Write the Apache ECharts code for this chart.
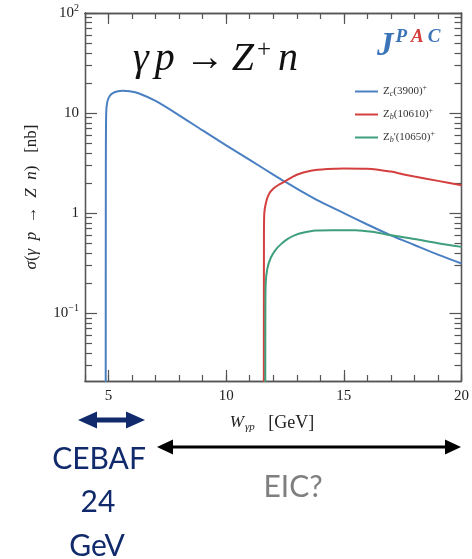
<!DOCTYPE html>
<html><head><meta charset="utf-8">
<script src="https://cdn.jsdelivr.net/npm/echarts@6/dist/echarts.min.js"></script>
<style>html,body{margin:0;padding:0;background:#fff}#c{width:472px;height:559px}</style>
</head><body><div id="c"></div>
<script>
// ---- data ----
const seriesNames = ['Zc(3900)+', 'Zb(10610)+', "Zb'(10650)+"];
const legendLabels = ['Z{sub|c}(3900){sup|+}', 'Z{sub|b}(10610){sup|+}', "Z{sub|b}'(10650){sup|+}"];
const blueW     = [4.88, 4.885, 4.9, 4.95, 5.05, 5.2, 5.4, 5.6, 5.9, 6.3, 7, 8, 9, 10, 11, 12, 12.5, 13, 14, 15, 16, 17, 18, 19, 20];
const blueSigma = [0.01, 2, 10, 13, 14.8, 15.9, 16.5, 16.7, 16.5, 15.7, 13.2, 9.5, 6.7, 4.75, 3.4, 2.43, 2.06, 1.76, 1.3, 1.0, 0.77, 0.60, 0.48, 0.385, 0.314];
const redW      = [11.6, 11.605, 11.62, 11.7, 11.83, 12.0, 12.2, 12.5, 13, 13.6, 14.3, 15, 16, 17, 17.5, 18, 19, 20];
const redSigma  = [0.01, 0.6, 1.0, 1.3, 1.57, 1.75, 1.9, 2.08, 2.42, 2.65, 2.76, 2.8, 2.78, 2.6, 2.45, 2.32, 2.1, 1.9];
const greenW     = [11.66, 11.665, 11.68, 11.75, 11.9, 12.1, 12.33, 12.6, 12.9, 13.3, 13.8, 14.5, 15.5, 16.2, 17, 18, 19, 20];
const greenSigma = [0.01, 0.1, 0.2, 0.28, 0.36, 0.43, 0.49, 0.55, 0.6, 0.64, 0.67, 0.675, 0.675, 0.65, 0.6, 0.55, 0.5, 0.46];
const xMajorTicks = [5, 10, 15, 20];
const xMinorTicks = [4,5,6,7,8,9,10,11,12,13,14,15,16,17,18,19,20];
const yMajorTicks = [0.1, 1, 10, 100];
const yTickLabels = ['10{sup|\u22121}', '1', '10', '10{sup|2}'];
const yMinorTicks = [0.03,0.04,0.05,0.06,0.07,0.08,0.09,0.2,0.3,0.4,0.5,0.6,0.7,0.8,0.9,2,3,4,5,6,7,8,9,20,30,40,50,60,70,80,90];
const xRange = [4, 20];
const yRange = [0.021, 100];

const colors = ['#4a80c2', '#d3403f', '#3f9f7c'];
const axisColor = '#555';
const serif = "'Liberation Serif', 'DejaVu Serif', serif";

function pairs(xs, ys) { return xs.map((x, i) => [x, ys[i]]); }

function xAxisDef(pos, ticks, len, labels) {
  return {
    type: 'value', position: pos, min: xRange[0], max: xRange[1],
    axisLine: { show: true, lineStyle: { color: axisColor, width: 1.3 } },
    axisTick: { show: true, inside: true, length: len, customValues: ticks, lineStyle: { color: axisColor, width: 1.2 } },
    axisLabel: labels ? { show: true, customValues: ticks, margin: 8, color: '#222', fontFamily: serif, fontSize: 15 } : { show: false },
    splitLine: { show: false }
  };
}
function yAxisDef(pos, ticks, len, labels) {
  return {
    type: 'log', logBase: 10, position: pos, min: yRange[0], max: yRange[1],
    axisLine: { show: true, lineStyle: { color: axisColor, width: 1.3 } },
    axisTick: { show: true, inside: true, length: len, customValues: ticks, lineStyle: { color: axisColor, width: 1.2 } },
    axisLabel: labels ? {
      show: true, customValues: ticks, margin: 6, color: '#222', fontFamily: serif, fontSize: 15,
      formatter: v => { const i = yMajorTicks.findIndex(t => Math.abs(t - v) / t < 1e-6); return i >= 0 ? yTickLabels[i] : ''; },
      rich: { sup: { fontSize: 10, fontFamily: serif, color: '#222', padding: [0, 0, 9, 0] } }
    } : { show: false },
    splitLine: { show: false }
  };
}

const chart = echarts.init(document.getElementById('c'), null, { renderer: 'canvas' });
const allW = [blueW, redW, greenW];
const allS = [blueSigma, redSigma, greenSigma];

chart.setOption({
  animation: false,
  backgroundColor: '#fff',
  grid: { left: 85, right: 10, top: 13, bottom: 178 },
  xAxis: [
    xAxisDef('bottom', xMajorTicks, 11, true),
    xAxisDef('bottom', xMinorTicks, 6, false),
    xAxisDef('top', xMajorTicks, 11, false),
    xAxisDef('top', xMinorTicks, 6, false)
  ],
  yAxis: [
    yAxisDef('left', yMajorTicks, 12, true),
    yAxisDef('left', yMinorTicks, 7, false),
    yAxisDef('right', yMajorTicks, 12, false),
    yAxisDef('right', yMinorTicks, 7, false)
  ],
  legend: {
    orient: 'vertical', left: 349, top: 79, itemWidth: 23, itemHeight: 14, itemGap: 8.5,
    data: seriesNames,
    itemStyle: { opacity: 0 },
    formatter: name => legendLabels[seriesNames.indexOf(name)],
    textStyle: {
      fontFamily: serif, fontSize: 11, color: '#333', lineHeight: 14,
      rich: {
        sub: { fontSize: 8, fontFamily: serif, color: '#333', fontStyle: 'italic', padding: [5, 0, 0, 0] },
        sup: { fontSize: 8, fontFamily: serif, color: '#333', padding: [0, 0, 7, 0] }
      }
    }
  },
  series: seriesNames.map((n, k) => ({
    name: n, type: 'line', xAxisIndex: 0, yAxisIndex: 0,
    data: pairs(allW[k], allS[k]),
    symbol: 'none', smooth: 0.3, clip: true,
    lineStyle: { color: colors[k], width: 2 }, itemStyle: { color: colors[k] }
  })),
  graphic: [
    { type: 'text', left: 133, top: 38, style: {
        text: '{g|\u03b3}{p|p}{a|\u2192}{z|Z}{s|+}{n|n}',
        rich: {
          g: { fontFamily: serif, fontStyle: 'italic', fontSize: 40, fill: '#111', padding: [0, 6, 0, 0] },
          p: { fontFamily: serif, fontStyle: 'italic', fontSize: 40, fill: '#111', padding: [0, 10, 0, 0] },
          a: { fontFamily: serif, fontSize: 40, fill: '#111', padding: [0, 7, 0, 0] },
          z: { fontFamily: serif, fontStyle: 'italic', fontSize: 40, fill: '#111', padding: [0, 3, 0, 0] },
          s: { fontFamily: serif, fontSize: 25, fill: '#111', padding: [0, 5, 18, 0] },
          n: { fontFamily: serif, fontStyle: 'italic', fontSize: 40, fill: '#111', padding: [0, 0, 0, 2] }
        } } },
    { type: 'text', left: 377, top: 28, style: {
        text: '{j|J}{p|P}{r|A}{p|C}',
        rich: {
          j: { fontFamily: serif, fontStyle: 'italic', fontWeight: 'bold', fontSize: 33, fill: '#3c74b8' },
          p: { fontFamily: serif, fontStyle: 'italic', fontWeight: 'bold', fontSize: 19, fill: '#3c74b8', padding: [0, 2, 18, 2] },
          r: { fontFamily: serif, fontStyle: 'italic', fontWeight: 'bold', fontSize: 19, fill: '#d3403f', padding: [0, 2, 18, 2] }
        } } },
    { type: 'text', x: 32, y: 197, rotation: Math.PI / 2, style: {
        text: '{i|\u03c3}({i|\u03b3}  {i|p}  \u2192  {i|Z}  {i|n})   [nb]', align: 'center', verticalAlign: 'middle',
        fontFamily: serif, fontSize: 17, fill: '#222',
        rich: { i: { fontFamily: serif, fontStyle: 'italic', fontSize: 17, fill: '#222' } } } },
    { type: 'text', x: 272, y: 423, style: {
        text: '{i|W}{s|\u03b3p}   [GeV]', align: 'center', verticalAlign: 'middle',
        fontFamily: serif, fontSize: 18, fill: '#222',
        rich: { i: { fontFamily: serif, fontStyle: 'italic', fontSize: 17, fill: '#222' },
                s: { fontFamily: serif, fontStyle: 'italic', fontSize: 11, fill: '#222', padding: [8, 0, 0, 1] } } } },
    // navy double arrow
    { type: 'line', shape: { x1: 94, y1: 420, x2: 129, y2: 420 }, style: { stroke: '#102a6b', lineWidth: 5 } },
    { type: 'polygon', shape: { points: [[78, 420], [97, 411.5], [97, 428.5]] }, style: { fill: '#102a6b' } },
    { type: 'polygon', shape: { points: [[145, 420], [126, 411.5], [126, 428.5]] }, style: { fill: '#102a6b' } },
    // black double arrow
    { type: 'line', shape: { x1: 168, y1: 447, x2: 449, y2: 447 }, style: { stroke: '#000', lineWidth: 3 } },
    { type: 'polygon', shape: { points: [[157, 447], [173, 439.5], [173, 454.5]] }, style: { fill: '#000' } },
    { type: 'polygon', shape: { points: [[461, 447], [445, 439.5], [445, 454.5]] }, style: { fill: '#000' } },
    { type: 'text', x: 99, y: 459, style: { text: 'CEBAF', align: 'center', verticalAlign: 'middle', fontFamily: 'Lato', fontSize: 30, fill: '#102a6b' } },
    { type: 'text', x: 98, y: 502, style: { text: '24', align: 'center', verticalAlign: 'middle', fontFamily: 'Lato', fontSize: 30, fill: '#102a6b' } },
    { type: 'text', x: 97, y: 546, style: { text: 'GeV', align: 'center', verticalAlign: 'middle', fontFamily: 'Lato', fontSize: 30, fill: '#102a6b' } },
    { type: 'text', x: 293, y: 487, style: { text: 'EIC?', align: 'center', verticalAlign: 'middle', fontFamily: 'Lato', fontSize: 30, fill: '#7f7f7f' } }
  ]
});
</script>
</body></html>
